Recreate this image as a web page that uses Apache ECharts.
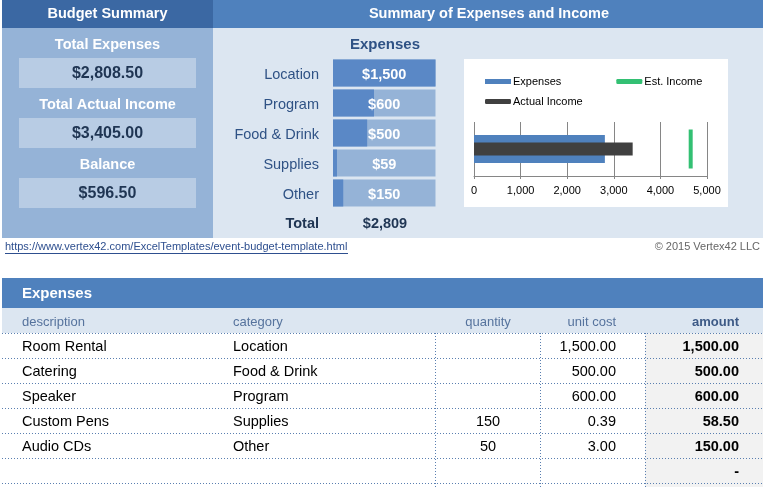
<!DOCTYPE html>
<html>
<head>
<meta charset="utf-8">
<script src="https://cdn.jsdelivr.net/npm/echarts@6/dist/echarts.min.js"></script>
<style>
html,body{margin:0;padding:0;background:#fff;}
#chart{width:768px;height:487px;}
</style>
</head>
<body>
<div id="chart"></div>
<script>
// ---- data ----
var expenseCategories = ['Location', 'Program', 'Food & Drink', 'Supplies', 'Other'];
var categoryTotals = [1500, 600, 500, 58.5, 150];
var totalExpenses = 2808.5;
var totalActualIncome = 3405;
var estIncome = 4650;
var summaryLabels = ['Total Expenses', 'Total Actual Income', 'Balance'];
var axisTicks = [0, 1000, 2000, 3000, 4000, 5000];

var tableHeaders = ['description', 'category', 'quantity', 'unit cost', 'amount'];
var rowDescriptions = ['Room Rental', 'Catering', 'Speaker', 'Custom Pens', 'Audio CDs', ''];
var rowCategories = ['Location', 'Food & Drink', 'Program', 'Supplies', 'Other', ''];
var rowQuantities = ['', '', '', '150', '50', ''];
var rowUnitCosts = ['1,500.00', '500.00', '600.00', '0.39', '3.00', ''];
var rowAmounts = ['1,500.00', '500.00', '600.00', '58.50', '150.00', '-'];

// ---- helpers ----
var FONT = 'Arial, "Liberation Sans", sans-serif';
function money2(v) { return '$' + v.toLocaleString('en-US', {minimumFractionDigits: 2, maximumFractionDigits: 2}); }
function money0(v) { return '$' + Math.round(v).toLocaleString('en-US'); }
function txt(x, y, s, size, weight, color, align) {
  return {
    type: 'text', x: x, y: y + 1, z: 5,
    style: {
      text: s, fill: color,
      font: (weight || 'normal') + ' ' + size + 'px ' + FONT,
      align: align || 'left', verticalAlign: 'middle',
      textAlign: align || 'left', textVerticalAlign: 'middle'
    }
  };
}
function rect(x, y, w, h, fill, z) {
  return { type: 'rect', z: z || 0, shape: {x: x, y: y, width: w, height: h}, style: {fill: fill} };
}
function dotted(x1, y1, x2, y2) {
  return { type: 'line', z: 3, shape: {x1: x1, y1: y1, x2: x2, y2: y2},
    style: {stroke: '#5a7fb0', lineWidth: 1, lineDash: [1, 2]} };
}

var balance = totalActualIncome - totalExpenses;
var summaryValues = [totalExpenses, totalActualIncome, balance];
var expSum = categoryTotals.reduce(function (a, b) { return a + b; }, 0);
var maxCat = Math.max.apply(null, categoryTotals);

var g = [];
// header bands
g.push(rect(2, 0, 211, 28, '#3b68a3'));
g.push(rect(213, 0, 550, 28, '#4f81bd'));
g.push(txt(107.5, 13, 'Budget Summary', 14.5, 'bold', '#ffffff', 'center'));
g.push(txt(489, 13, 'Summary of Expenses and Income', 14.5, 'bold', '#ffffff', 'center'));
// bodies
g.push(rect(2, 28, 211, 210, '#95b3d7'));
g.push(rect(213, 28, 550, 210, '#dce6f1'));
// summary boxes
for (var i = 0; i < 3; i++) {
  var by = 58 + i * 60;
  g.push(txt(107.5, by - 14, summaryLabels[i], 14.5, 'bold', '#ffffff', 'center'));
  g.push(rect(19, by, 177, 30, '#b8cce4'));
  g.push(txt(107.5, by + 15, money2(summaryValues[i]), 16, 'bold', '#1f3553', 'center'));
}
// expenses panel
g.push(txt(385, 44, 'Expenses', 15, 'bold', '#2f5285', 'center'));
for (var k = 0; k < expenseCategories.length; k++) {
  g.push(txt(319, 74 + k * 30, expenseCategories[k], 14.5, 'normal', '#2f5285', 'right'));
}
g.push(txt(319, 223, 'Total', 14.5, 'bold', '#1f3553', 'right'));
g.push(txt(385, 223, money0(expSum), 14.5, 'bold', '#1f3553', 'center'));
// chart box
g.push(rect(464, 59, 264, 148, '#ffffff', 1));
// footer line
var link = 'https://www.vertex42.com/ExcelTemplates/event-budget-template.html';
g.push(txt(5, 246, link, 11, 'normal', '#2e4f8f', 'left'));
g.push({ type: 'line', z: 5, shape: {x1: 5, y1: 253.5, x2: 348, y2: 253.5}, style: {stroke: '#2e4f8f', lineWidth: 1} });
g.push(txt(760, 246, '\u00a9 2015 Vertex42 LLC', 11, 'normal', '#666666', 'right'));
// table
g.push(rect(2, 278, 761, 30, '#4f81bd'));
g.push(txt(22, 293, 'Expenses', 15, 'bold', '#ffffff', 'left'));
g.push(rect(2, 308, 761, 25, '#dce6f1'));
g.push(rect(645, 333, 118, 154, '#f2f2f2'));
var colX = [22, 233, 488, 616, 739];
var colAlign = ['left', 'left', 'center', 'right', 'right'];
for (var c = 0; c < tableHeaders.length; c++) {
  var isAmt = c === 4;
  g.push(txt(colX[c], 321, tableHeaders[c], 13, isAmt ? 'bold' : 'normal', isAmt ? '#3d5a86' : '#56739d', colAlign[c]));
}
var rowCols = [rowDescriptions, rowCategories, rowQuantities, rowUnitCosts, rowAmounts];
for (var r = 0; r < rowDescriptions.length; r++) {
  var ry = 346 + r * 25;
  for (var c2 = 0; c2 < rowCols.length; c2++) {
    var s = rowCols[c2][r];
    if (s === '') continue;
    g.push(txt(colX[c2], ry, s, 14.5, c2 === 4 ? 'bold' : 'normal', '#000000', colAlign[c2]));
  }
}
for (var d = 0; d < 7; d++) {
  var ly = 333 + d * 25;
  g.push(dotted(2, ly + 0.5, 763, ly + 0.5));
}
[435.5, 540.5, 645.5].forEach(function (x) { g.push(dotted(x, 333, x, 487)); });

var fullVals = categoryTotals.map(function () { return maxCat; });

var option = {
  animation: false,
  backgroundColor: '#ffffff',
  textStyle: {fontFamily: FONT},
  graphic: {elements: g},
  grid: [
    {left: 333, top: 58, width: 102.5, height: 150, containLabel: false},
    {left: 474, top: 122, width: 233, height: 54, containLabel: false, z: 3}
  ],
  xAxis: [
    {gridIndex: 0, type: 'value', min: 0, max: maxCat, show: false},
    {gridIndex: 1, type: 'value', min: 0, max: 5000, interval: 1000, z: 3,
      axisLine: {show: true, lineStyle: {color: '#868686'}},
      axisTick: {show: true, length: 3, lineStyle: {color: '#868686'}},
      splitLine: {show: true, lineStyle: {color: '#868686', width: 1}},
      axisLabel: {color: '#000000', fontSize: 11, margin: 9, fontFamily: FONT,
        formatter: function (v) { return axisTicks.indexOf(v) >= 0 ? v.toLocaleString('en-US') : ''; }}
    }
  ],
  yAxis: [
    {gridIndex: 0, type: 'category', inverse: true, data: expenseCategories, show: false},
    {gridIndex: 1, type: 'category', data: ['income'], show: false},
    {gridIndex: 1, type: 'category', data: ['income'], show: false}
  ],
  legend: [
    {data: [{name: 'Expenses', icon: 'rect'}, {name: 'Est. Income', icon: 'roundRect'}],
      left: 485, top: 76, itemWidth: 26, itemHeight: 5, itemGap: 55, padding: 0, z: 6,
      textStyle: {fontSize: 11, color: '#000', fontFamily: FONT, padding: [0, 0, 0, -3]}},
    {data: [{name: 'Actual Income', icon: 'roundRect'}],
      left: 485, top: 96, itemWidth: 26, itemHeight: 5, padding: 0, z: 6,
      textStyle: {fontSize: 11, color: '#000', fontFamily: FONT, padding: [0, 0, 0, -3]}}
  ],
  series: [
    {type: 'bar', name: 'cellbg', xAxisIndex: 0, yAxisIndex: 0, data: fullVals, barWidth: 27,
      itemStyle: {color: '#95b3d7'}, silent: true, z: 2},
    {type: 'bar', name: 'cellbar', xAxisIndex: 0, yAxisIndex: 0, data: categoryTotals, barWidth: 27, barGap: '-100%',
      itemStyle: {color: '#5a88c6'}, silent: true, z: 3},
    {type: 'bar', name: 'celllabel', xAxisIndex: 0, yAxisIndex: 0, data: fullVals, barWidth: 27, barGap: '-100%',
      itemStyle: {color: 'rgba(0,0,0,0)'}, silent: true, z: 4,
      label: {show: true, position: 'inside', offset: [0, 2], color: '#ffffff', fontWeight: 'bold', fontSize: 14.5, fontFamily: FONT,
        formatter: function (p) { return money0(categoryTotals[p.dataIndex]); }}},
    {type: 'bar', name: 'Expenses', xAxisIndex: 1, yAxisIndex: 1, data: [totalExpenses], barWidth: 28,
      itemStyle: {color: '#4f81bd'}, z: 4},
    {type: 'bar', name: 'Actual Income', xAxisIndex: 1, yAxisIndex: 2, data: [totalActualIncome], barWidth: 13,
      itemStyle: {color: '#404040'}, z: 5},
    {type: 'scatter', name: 'Est. Income', xAxisIndex: 1, yAxisIndex: 1, data: [[estIncome, 'income']],
      symbol: 'rect', symbolSize: [4, 39], itemStyle: {color: '#00b050'}, z: 6}
  ]
};
var chart = echarts.init(document.getElementById('chart'));
chart.setOption(option);
</script>
</body>
</html>
